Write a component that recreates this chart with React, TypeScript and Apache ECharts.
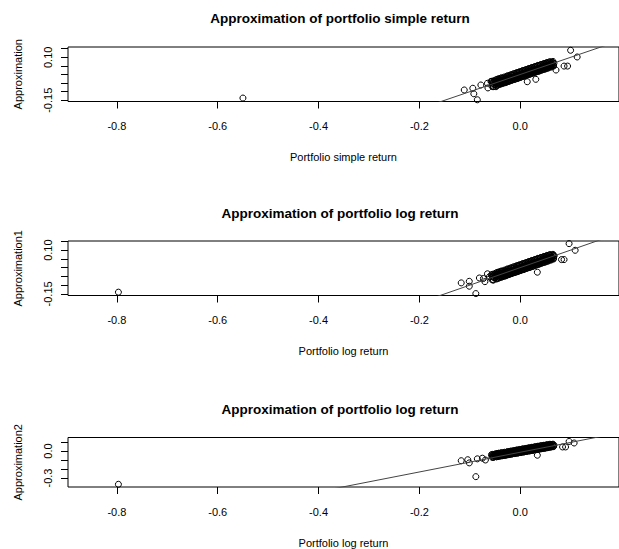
import React, { useEffect, useRef } from "react";
import * as echarts from "echarts";

// ---------- data ----------
const panelTitles = [
  "Approximation of portfolio simple return",
  "Approximation of portfolio log return",
  "Approximation of portfolio log return",
];
const xAxisTitles = ["Portfolio simple return", "Portfolio log return", "Portfolio log return"];
const yAxisTitles = ["Approximation", "Approximation1", "Approximation2"];

const xTickValues = [-0.8, -0.6, -0.4, -0.2, 0.0, 0.2];
const xRange = [-0.897, 0.196];

const yRanges = [
  [-0.157, 0.16],
  [-0.159, 0.152],
  [-0.4, 0.15],
];
const yTickValues = [
  [-0.15, -0.1, -0.05, 0, 0.05, 0.1, 0.15],
  [-0.15, -0.1, -0.05, 0, 0.05, 0.1, 0.15],
  [-0.3, -0.2, -0.1, 0, 0.1],
];
const yLabelValues = [
  [-0.15, 0.1],
  [-0.15, 0.1],
  [-0.3, 0.0],
];
const yLabelDecimals = [2, 2, 1];

// dense central cluster (return, approximation) shared by the three panels
const cluster: number[][] = [
  [-0.057, -0.041], [-0.056, -0.068], [-0.055, -0.051], [-0.054, -0.071], [-0.053, -0.042], [-0.052, -0.057], [-0.051, -0.037], [-0.05, -0.059], [-0.049, -0.049], [-0.048, -0.04],
  [-0.047, -0.062], [-0.046, -0.028], [-0.045, -0.047], [-0.044, -0.061], [-0.043, -0.027], [-0.042, -0.054], [-0.041, -0.033], [-0.04, -0.049], [-0.039, -0.022], [-0.038, -0.055],
  [-0.037, -0.033], [-0.036, -0.05], [-0.035, -0.021], [-0.034, -0.046], [-0.033, -0.029], [-0.032, -0.049], [-0.031, -0.019], [-0.03, -0.042], [-0.029, -0.025], [-0.028, -0.045],
  [-0.027, -0.013], [-0.026, -0.036], [-0.025, -0.041], [-0.024, -0.01], [-0.023, -0.03], [-0.022, -0.039], [-0.021, -0.006], [-0.02, -0.034], [-0.019, -0.016], [-0.018, -0.033],
  [-0.017, -0.001], [-0.016, -0.027], [-0.015, -0.031], [-0.014, -0.003], [-0.013, -0.022], [-0.012, -0.028], [-0.011, 0.004], [-0.01, -0.019], [-0.009, -0.026], [-0.008, 0.006],
  [-0.007, -0.012], [-0.006, -0.023], [-0.005, 0.011], [-0.004, -0.016], [-0.003, -0.02], [-0.002, 0.012], [-0.001, -0.007], [0.0, -0.016], [0.001, 0.015], [0.002, -0.01],
  [0.003, -0.013], [0.004, 0.02], [0.005, -0.004], [0.006, -0.01], [0.007, 0.022], [0.008, -0.006], [0.009, -0.007], [0.01, 0.025], [0.011, 0.002], [0.012, -0.004],
  [0.013, 0.029], [0.014, 0.005], [0.015, -0.001], [0.016, 0.031], [0.017, 0.009], [0.018, 0.002], [0.019, 0.034], [0.02, 0.012], [0.021, 0.005], [0.022, 0.037],
  [0.023, 0.016], [0.024, 0.008], [0.025, 0.04], [0.026, 0.019], [0.027, 0.011], [0.028, 0.043], [0.029, 0.021], [0.03, 0.014], [0.031, 0.047], [0.032, 0.025],
  [0.033, 0.017], [0.034, 0.049], [0.035, 0.029], [0.036, 0.02], [0.037, 0.052], [0.038, 0.031], [0.039, 0.023], [0.04, 0.055], [0.041, 0.035], [0.042, 0.026],
  [0.043, 0.058], [0.044, 0.038], [0.045, 0.029], [0.046, 0.06], [0.047, 0.042], [0.048, 0.032], [0.049, 0.062], [0.05, 0.045], [0.051, 0.035], [0.052, 0.065],
  [0.053, 0.047], [0.054, 0.038], [0.055, 0.067], [0.056, 0.05], [0.057, 0.042], [0.058, 0.069], [0.059, 0.053], [0.06, 0.046], [0.061, 0.07], [0.062, 0.056],
  [0.063, 0.049], [0.064, 0.071], [0.065, 0.058], [0.066, 0.052], [0.067, 0.066],
  [-0.05, -0.048], [-0.045, -0.038], [-0.04, -0.036], [-0.035, -0.037], [-0.03, -0.031], [-0.025, -0.023], [-0.02, -0.02], [-0.015, -0.017], [-0.01, -0.008], [-0.005, -0.004],
  [0.0, 0.002], [0.005, 0.006], [0.01, 0.011], [0.015, 0.016], [0.02, 0.022], [0.025, 0.024], [0.03, 0.031], [0.035, 0.036], [0.04, 0.039], [0.045, 0.046],
  [0.05, 0.05], [0.055, 0.054], [0.06, 0.058],
  [-0.047, -0.052], [-0.037, -0.042], [-0.027, -0.028], [-0.017, -0.019], [-0.007, -0.003], [0.003, 0.003], [0.013, 0.016], [0.023, 0.026], [0.033, 0.032], [0.043, 0.044], [0.053, 0.057],
  [-0.043, -0.045], [-0.033, -0.035], [-0.023, -0.02], [-0.013, -0.012], [-0.003, -0.008], [0.007, 0.009], [0.017, 0.02], [0.027, 0.031], [0.037, 0.037], [0.047, 0.051], [0.057, 0.055],
  [-0.055, -0.038], [-0.049, -0.032], [-0.043, -0.025], [-0.037, -0.019], [-0.031, -0.014], [-0.025, -0.007], [-0.019, -0.002], [-0.013, 0.005], [-0.007, 0.011], [-0.001, 0.017],
  [0.005, 0.023], [0.011, 0.028], [0.017, 0.035], [0.023, 0.041], [0.029, 0.046], [0.035, 0.053], [0.041, 0.058], [0.047, 0.064], [0.053, 0.07], [0.059, 0.075], [0.065, 0.076],
  [-0.053, -0.07], [-0.047, -0.065], [-0.041, -0.058], [-0.035, -0.052], [-0.029, -0.047], [-0.023, -0.04], [-0.017, -0.034], [-0.011, -0.028], [-0.005, -0.022], [0.001, -0.016],
  [0.007, -0.011], [0.013, -0.004], [0.019, 0.001], [0.025, 0.007], [0.031, 0.014], [0.037, 0.019], [0.043, 0.026], [0.049, 0.031], [0.055, 0.037], [0.061, 0.043], [0.066, 0.049],
];

// scattered points outside the cluster, per panel
const outerX = [
  [-0.55, -0.111, -0.094, -0.092, -0.085, -0.078, -0.065, -0.064, -0.058, -0.048, 0.014, 0.031, 0.064, 0.071, 0.087, 0.094, 0.1, 0.113],
  [-0.797, -0.117, -0.101, -0.101, -0.088, -0.081, -0.073, -0.07, -0.065, -0.061, 0.034, 0.067, 0.082, 0.087, 0.097, 0.109],
  [-0.797, -0.117, -0.104, -0.101, -0.088, -0.085, -0.075, -0.069, 0.034, 0.084, 0.09, 0.097, 0.107],
];
const outerY = [
  [-0.137, -0.09, -0.08, -0.112, -0.147, -0.061, -0.051, -0.078, -0.04, -0.071, -0.042, -0.028, 0.068, 0.026, 0.049, 0.049, 0.141, 0.102],
  [-0.14, -0.087, -0.078, -0.106, -0.148, -0.059, -0.062, -0.08, -0.035, -0.052, -0.026, 0.069, 0.046, 0.046, 0.137, 0.099],
  [-0.37, -0.108, -0.097, -0.132, -0.285, -0.087, -0.08, -0.1, -0.047, 0.045, 0.045, 0.106, 0.089],
];

// fitted line endpoints per panel
const fitX = [
  [-0.3, 0.3],
  [-0.3, 0.3],
  [-0.4, 0.2],
];
const fitY = [
  [-0.3, 0.3],
  [-0.3, 0.3],
  [-0.452, 0.205],
];

// ---------- layout ----------
const W = 619;
const H = 549;
const PLOT_LEFT = 68;
const PLOT_WIDTH = 552;
const PLOT_HEIGHT = 54.5;
const PLOT_TOPS = [47, 241, 437.5];
const TITLE_Y = [18, 213.5, 409];
const TITLE_X = 340;
const FONT = "'Liberation Sans', Arial, Helvetica, sans-serif";

export default function App() {
  const ref = useRef<HTMLDivElement>(null);

  useEffect(() => {
    const chart = echarts.init(ref.current!, null, { renderer: "svg" });
    const grids: any[] = [];
    const xAxes: any[] = [];
    const yAxes: any[] = [];
    const series: any[] = [];
    const graphics: any[] = [];

    for (let i = 0; i < 3; i++) {
      grids.push({
        left: PLOT_LEFT,
        top: PLOT_TOPS[i],
        width: PLOT_WIDTH,
        height: PLOT_HEIGHT,
        show: true,
        borderColor: "#000",
        borderWidth: 1,
        backgroundColor: "transparent",
      });
      xAxes.push({
        type: "value",
        gridIndex: i,
        position: "bottom",
        min: xRange[0],
        max: xRange[1],
        name: xAxisTitles[i],
        nameLocation: "middle",
        nameGap: 50,
        nameTextStyle: { color: "#000", fontSize: 11, fontFamily: FONT },
        axisLine: { show: false, onZero: false },
        axisTick: { show: true, length: 7, lineStyle: { color: "#000", width: 1 }, customValues: xTickValues },
        axisLabel: {
          customValues: xTickValues,
          formatter: (v: number) => v.toFixed(1),
          margin: 19,
          color: "#000",
          fontSize: 11,
          fontFamily: FONT,
        },
        splitLine: { show: false },
      });
      yAxes.push({
        type: "value",
        gridIndex: i,
        position: "left",
        min: yRanges[i][0],
        max: yRanges[i][1],
        name: yAxisTitles[i],
        nameLocation: "middle",
        nameGap: 45,
        nameTextStyle: { color: "#000", fontSize: 11, fontFamily: FONT },
        axisLine: { show: false, onZero: false },
        axisTick: { show: true, length: 7, lineStyle: { color: "#000", width: 1 }, customValues: yTickValues[i] },
        axisLabel: {
          customValues: yLabelValues[i],
          formatter: (v: number) => v.toFixed(yLabelDecimals[i]),
          rotate: 90,
          margin: 15,
          color: "#000",
          fontSize: 11,
          fontFamily: FONT,
        },
        splitLine: { show: false },
      });
      const pts = cluster.map((p) => [p[0], p[1]]).concat(outerX[i].map((x, k) => [x, outerY[i][k]]));
      series.push({
        type: "scatter",
        xAxisIndex: i,
        yAxisIndex: i,
        data: pts,
        symbol: "circle",
        symbolSize: 6,
        itemStyle: { color: "transparent", borderColor: "#000", borderWidth: 1, opacity: 1 },
        emphasis: { disabled: true },
        z: 2,
      });
      series.push({
        type: "line",
        xAxisIndex: i,
        yAxisIndex: i,
        data: fitX[i].map((x, k) => [x, fitY[i][k]]),
        symbol: "none",
        clip: true,
        lineStyle: { color: "#444", width: 1 },
        z: 3,
      });
      graphics.push({
        type: "text",
        x: TITLE_X,
        y: TITLE_Y[i],
        style: {
          text: panelTitles[i],
          fontSize: 13.5,
          fontWeight: "bold",
          fontFamily: FONT,
          fill: "#000",
          align: "center",
          verticalAlign: "middle",
        },
      });
    }

    chart.setOption({
      animation: false,
      backgroundColor: "#fff",
      grid: grids,
      xAxis: xAxes,
      yAxis: yAxes,
      series,
      graphic: graphics,
    });
    return () => chart.dispose();
  }, []);

  return (
    <div
      ref={ref}
      style={{ position: "fixed", left: 0, top: 0, width: W, height: H, background: "#fff" }}
    />
  );
}
